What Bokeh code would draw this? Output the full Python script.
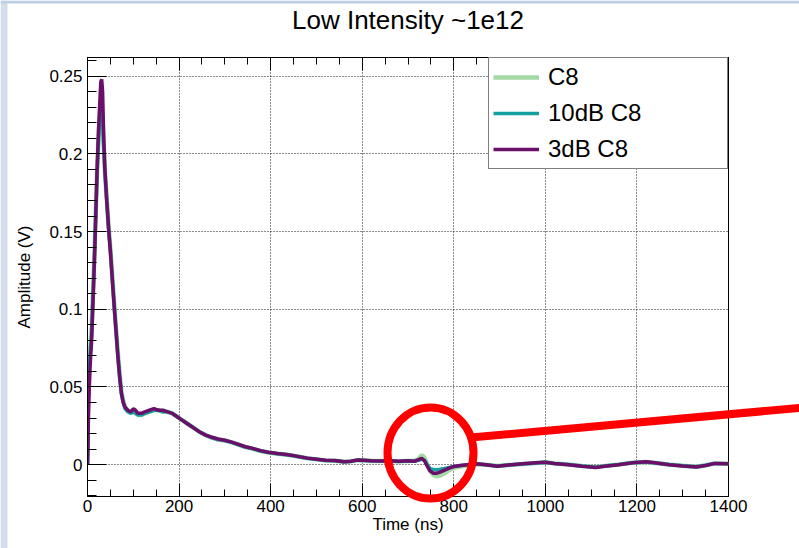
from bokeh.plotting import figure
from bokeh.models import (LinearAxis, SingleIntervalTicker, NumeralTickFormatter,
                          CustomJSTickFormatter, Legend, LegendItem, Range1d)
from bokeh.core.properties import value
from bokeh.embed import file_html
from bokeh.resources import INLINE

# ---------------- data ----------------
TITLE = "Low Intensity ~1e12"
X_LABEL = "Time (ns)"
Y_LABEL = "Amplitude (V)"
SERIES_LABELS = ["C8", "10dB C8", "3dB C8"]

time_ns = [
    0, 1, 2, 4, 6, 9, 12, 15, 18, 21,
    24, 27, 29, 31, 33, 35, 38, 42, 46, 50,
    54, 58, 62, 66, 70, 74, 78, 82, 88, 95,
    100, 105, 110, 118, 125, 135, 145, 155, 165, 175,
    185, 195, 205, 215, 225, 235, 245, 258, 270, 285,
    300, 315, 330, 345, 360, 378, 395, 415, 435, 450,
    465, 480, 500, 520, 540, 560, 575, 590, 605, 620,
    640, 660, 680, 700, 715, 722, 730, 736, 742, 748,
    755, 762, 770, 780, 790, 800, 815, 830, 850, 870,
    895, 920, 950, 980, 1000, 1020, 1050, 1080, 1110, 1130,
    1160, 1190, 1220, 1240, 1270, 1300, 1330, 1350, 1370, 1400,
]

amp_c8 = [
    0.000, 0.045, 0.065, 0.070, 0.075, 0.088, 0.110, 0.134, 0.162, 0.190,
    0.210, 0.226, 0.232, 0.229, 0.224, 0.208, 0.189, 0.171, 0.154, 0.139,
    0.122, 0.105, 0.089, 0.073, 0.059, 0.047, 0.041, 0.037, 0.035, 0.034,
    0.034, 0.033, 0.032, 0.032, 0.033, 0.034, 0.035, 0.035, 0.034, 0.034,
    0.033, 0.031, 0.029, 0.027, 0.025, 0.023, 0.021, 0.019, 0.0175, 0.0162,
    0.0155, 0.0143, 0.0128, 0.0113, 0.0103, 0.0088, 0.0078, 0.0070, 0.0063, 0.0057,
    0.0049, 0.0041, 0.0034, 0.0027, 0.0025, 0.0018, 0.0021, 0.0029, 0.0027, 0.0024,
    0.0023, 0.0024, 0.0022, 0.0024, 0.0025, 0.0035, 0.0060, 0.0045, 0.0000, -0.0040,
    -0.0065, -0.0075, -0.0070, -0.0055, -0.0035, -0.0020, -0.0012, -0.0005, 0.0003, 0.0000,
    -0.0009, -0.0002, 0.0004, 0.0011, 0.0016, 0.0008, 0.0001, -0.0009, -0.0016, -0.0008,
    0.0001, 0.0012, 0.0017, 0.0011, 0.0001, -0.0007, -0.0013, -0.0004, 0.0008, 0.0005,
]

amp_c8_10db = [
    0.000, 0.040, 0.060, 0.066, 0.072, 0.085, 0.108, 0.132, 0.160, 0.188,
    0.208, 0.224, 0.229, 0.226, 0.222, 0.206, 0.188, 0.170, 0.153, 0.138,
    0.121, 0.104, 0.088, 0.072, 0.058, 0.046, 0.040, 0.036, 0.034, 0.033,
    0.034, 0.033, 0.032, 0.032, 0.033, 0.034, 0.035, 0.035, 0.034, 0.034,
    0.033, 0.031, 0.029, 0.027, 0.025, 0.023, 0.021, 0.019, 0.0175, 0.0162,
    0.0155, 0.0143, 0.0128, 0.0113, 0.0103, 0.0088, 0.0078, 0.0070, 0.0063, 0.0057,
    0.0049, 0.0041, 0.0034, 0.0027, 0.0025, 0.0018, 0.0021, 0.0029, 0.0027, 0.0024,
    0.0023, 0.0024, 0.0021, 0.0024, 0.0022, 0.0028, 0.0035, 0.0028, 0.0000, -0.0025,
    -0.0032, -0.0033, -0.0030, -0.0024, -0.0018, -0.0012, -0.0006, 0.0000, 0.0004, 0.0000,
    -0.0009, -0.0002, 0.0004, 0.0011, 0.0016, 0.0008, 0.0001, -0.0009, -0.0016, -0.0008,
    0.0001, 0.0012, 0.0017, 0.0011, 0.0001, -0.0007, -0.0013, -0.0004, 0.0008, 0.0005,
]

amp_c8_3db = [
    0.000, 0.010, 0.030, 0.050, 0.065, 0.080, 0.105, 0.130, 0.160, 0.190,
    0.215, 0.234, 0.246, 0.248, 0.240, 0.215, 0.190, 0.170, 0.152, 0.137,
    0.120, 0.103, 0.087, 0.071, 0.057, 0.046, 0.040, 0.037, 0.035, 0.034,
    0.036, 0.035, 0.033, 0.033, 0.034, 0.035, 0.036, 0.035, 0.035, 0.034,
    0.033, 0.031, 0.029, 0.027, 0.025, 0.023, 0.021, 0.019, 0.0178, 0.0165,
    0.0157, 0.0145, 0.0130, 0.0115, 0.0105, 0.0090, 0.0080, 0.0072, 0.0065, 0.0058,
    0.0050, 0.0042, 0.0035, 0.0028, 0.0026, 0.0018, 0.0022, 0.0030, 0.0028, 0.0025,
    0.0024, 0.0025, 0.0022, 0.0025, 0.0022, 0.0030, 0.0040, 0.0025, -0.0010, -0.0040,
    -0.0055, -0.0056, -0.0048, -0.0035, -0.0022, -0.0012, -0.0005, 0.0000, 0.0005, 0.0000,
    -0.0010, -0.0002, 0.0005, 0.0012, 0.0015, 0.0008, 0.0000, -0.0010, -0.0018, -0.0010,
    0.0000, 0.0012, 0.0018, 0.0012, 0.0000, -0.0008, -0.0015, -0.0005, 0.0008, 0.0005,
]

X_RANGE = (0, 1400)
Y_RANGE = (-0.0205, 0.262)
X_TICK_STEP = 200
Y_TICK_STEP = 0.05

# ---------------- layout / style ----------------
W, H = 799, 548
FL, FR, FT, FB = 87, 728, 57, 496   # frame edges in pixels
FONT = "Liberation Sans"
COLORS = ["#a3d9a3", "#14a0a0", "#6b0f6b"]
WIDTHS = [4.5, 3.5, 3.5]

p = figure(width=W, height=H, x_range=X_RANGE, y_range=Y_RANGE,
           output_backend="svg", toolbar_location=None,
           min_border_left=FL, min_border_right=W - FR,
           min_border_top=FT, min_border_bottom=H - FB,
           background_fill_color="white", border_fill_color="white")

p.outline_line_color = "black"
p.outline_line_width = 1

xt = SingleIntervalTicker(interval=X_TICK_STEP, num_minor_ticks=4)
yt = SingleIntervalTicker(interval=Y_TICK_STEP, num_minor_ticks=5)

p.xaxis.ticker = xt
p.yaxis.ticker = yt
p.xgrid.ticker = xt
p.ygrid.ticker = yt
p.yaxis.formatter = NumeralTickFormatter(format="0.[00]")

for ax in (p.xaxis, p.yaxis):
    ax.axis_line_color = "black"
    ax.major_tick_line_color = "black"
    ax.minor_tick_line_color = "black"
    ax.major_tick_out = 0
    ax.minor_tick_out = 0
    ax.major_label_text_font = FONT
    ax.major_label_text_font_size = "17px"
    ax.major_label_text_color = "black"
    ax.axis_label_text_font = FONT
    ax.axis_label_text_font_size = "17px"
    ax.axis_label_text_font_style = "normal"
    ax.axis_label_text_color = "black"

p.xaxis.major_tick_in = 13
p.xaxis.minor_tick_in = 7
p.yaxis.major_tick_in = 19
p.yaxis.minor_tick_in = 9
p.xaxis.major_label_standoff = 3
p.yaxis.major_label_standoff = 5
p.xaxis.axis_label = X_LABEL
p.yaxis.axis_label = Y_LABEL
p.xaxis.axis_label_standoff = 0
p.yaxis.axis_label_standoff = 12

top = LinearAxis(ticker=xt, formatter=CustomJSTickFormatter(code="return ''"),
                 major_tick_in=13, major_tick_out=0, minor_tick_in=7, minor_tick_out=0,
                 axis_line_color="black", major_tick_line_color="black",
                 minor_tick_line_color="black", major_label_standoff=0)
p.add_layout(top, "above")

for g in (p.xgrid, p.ygrid):
    g.grid_line_color = "black"
    g.grid_line_dash = "1 2"
    g.grid_line_width = 1
    g.grid_line_alpha = 0.9

renderers = []
for ys, c, w in zip([amp_c8, amp_c8_10db, amp_c8_3db], COLORS, WIDTHS):
    r = p.line(time_ns, ys, line_color=c, line_width=w)
    renderers.append(r)

legend = Legend(items=[LegendItem(label=lab, renderers=[r])
                       for lab, r in zip(SERIES_LABELS, renderers)],
                location="top_right")
legend.margin = 0
legend.padding = 4
legend.spacing = 6
legend.label_height = 30
legend.glyph_height = 30
legend.glyph_width = 46
legend.label_standoff = 9
legend.label_width = 175
legend.label_text_font = FONT
legend.label_text_font_size = "24px"
legend.label_text_color = "black"
legend.border_line_color = "black"
legend.border_line_width = 1
legend.background_fill_color = "white"
legend.background_fill_alpha = 1
p.add_layout(legend)

# ---------------- overlay canvas (page pixels): title, window strips, red marker ----------------
ov = figure(width=W, height=H, x_range=Range1d(0, W), y_range=Range1d(H, 0),
            output_backend="svg", toolbar_location=None, title=None,
            x_axis_type=None, y_axis_type=None, min_border=0,
            background_fill_color=None, border_fill_color=None, outline_line_color=None,
            styles={"position": "absolute", "left": "0px", "top": "0px",
                    "z-index": "10", "pointer-events": "none"})
ov.grid.visible = False

TITLE_POS = (407.5, 19)
ov.text(x=[TITLE_POS[0]], y=[TITLE_POS[1]], text=[TITLE], text_align="center",
        text_baseline="middle", text_font=value(FONT), text_font_size="26px",
        text_color="black")

ov.quad(left=[0], right=[7], top=[0], bottom=[H], fill_color="#d3deea", line_color=None)
ov.quad(left=[0], right=[W], top=[0], bottom=[3], fill_color="#bccfe5", line_color=None)

CIRCLE_C = (430, 452.5)
CIRCLE_WH = (86, 91)
ov.ellipse(x=[CIRCLE_C[0]], y=[CIRCLE_C[1]], width=[CIRCLE_WH[0]], height=[CIRCLE_WH[1]],
           fill_color=None, line_color="#ff0000", line_width=8)
ov.line(x=[473, 806], y=[436.8, 406.8], line_color="#ff0000", line_width=8)

open("out.html", "w").write(file_html([p, ov], INLINE))
